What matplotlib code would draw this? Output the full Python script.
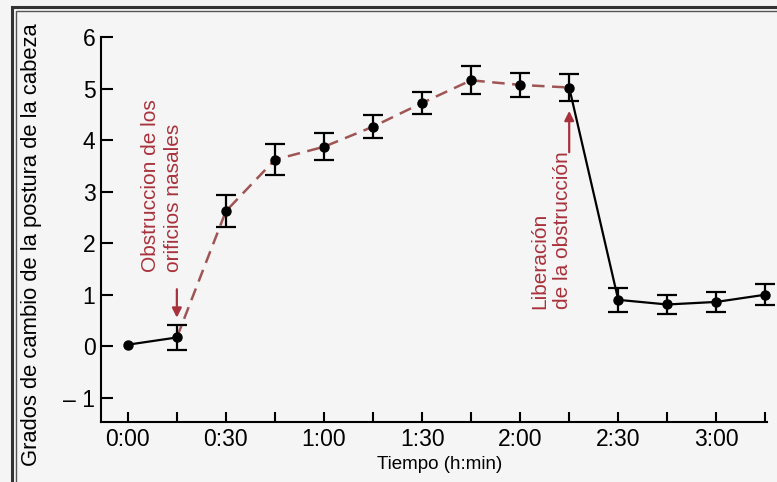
import numpy as np
import matplotlib.pyplot as plt
from matplotlib.patches import Rectangle

# minutes after start, mean change in head posture (degrees), error bar
minutes = [0, 15, 30, 45, 60, 75, 90, 105, 120, 135, 150, 165, 180, 195]
grados = [0.03, 0.17, 2.62, 3.62, 3.87, 4.26, 4.72, 5.16, 5.07, 5.02, 0.90, 0.81, 0.86, 1.00]
error = [0.0, 0.25, 0.31, 0.30, 0.26, 0.22, 0.21, 0.27, 0.24, 0.26, 0.23, 0.19, 0.20, 0.20]

x_ticks = [0, 15, 30, 45, 60, 75, 90, 105, 120, 135, 150, 165, 180, 195]
x_labels = ["0:00", "", "0:30", "", "1:00", "", "1:30", "", "2:00", "", "2:30", "", "3:00", ""]
y_ticks = [-1, 0, 1, 2, 3, 4, 5, 6]
y_labels = ["\u2013 1", "0", "1", "2", "3", "4", "5", "6"]

i_obstr = 1    # nostrils blocked
i_liber = 9    # obstruction released

plt.rcParams["font.family"] = ["Liberation Sans", "DejaVu Sans"]
red = "#a8323c"
dash_col = "#a05555"

fig = plt.figure(figsize=(7.77, 4.82), dpi=100)
fig.patch.set_facecolor("#f5f5f5")
ax = fig.add_axes([101 / 777, 1 - 422 / 482, (767 - 101) / 777, (422 - 37) / 482])
ax.set_facecolor("none")

x = np.array(minutes)
y = np.array(grados)
e = np.array(error)

# line segments
ax.plot(x[:i_obstr + 1], y[:i_obstr + 1], color="black", lw=1.6, zorder=2)
ax.plot(x[i_obstr:i_liber + 1], y[i_obstr:i_liber + 1], color=dash_col, lw=1.8,
        dashes=(5, 3), zorder=2)
ax.plot(x[i_liber:], y[i_liber:], color="black", lw=1.6, zorder=2)

# error bars (first point has none)
ax.errorbar(x[1:], y[1:], yerr=e[1:], fmt="none", ecolor="black", elinewidth=1.6,
            capsize=7.5, capthick=1.6, zorder=3, clip_on=False)
ax.plot(x, y, "o", color="black", ms=6.5, zorder=4, clip_on=False)

ax.set_xlim(-8.2, 195.5)
ax.set_ylim(-1.47, 6)
ax.set_xticks(x_ticks)
ax.set_xticklabels(x_labels)
ax.set_yticks(y_ticks)
ax.set_yticklabels(y_labels)

for s in ["top", "right"]:
    ax.spines[s].set_visible(False)
for s in ["left", "bottom"]:
    ax.spines[s].set_linewidth(1.5)
ax.tick_params(axis="y", direction="in", length=8.5, width=1.5, labelsize=16.5, pad=4)
ax.tick_params(axis="x", direction="in", length=7, width=1.5, labelsize=16.5, pad=4)

ax.set_ylabel("Grados de cambio de la postura de la cabeza", fontsize=15.8)
ax.yaxis.set_label_coords(-0.089, 0.46)
ax.set_xlabel("Tiempo (h:min)", fontsize=13.5)
ax.xaxis.set_label_coords(0.509, -0.088)

# annotations
ax.text(10.4, 1.45, "Obstruccion de los\norificios nasales", rotation=90, color=red,
        fontsize=15, ha="center", va="bottom", multialignment="left", linespacing=1.3)
ax.annotate("", xy=(15, 0.5), xytext=(15, 1.16),
            arrowprops=dict(arrowstyle="-|>", color=red, lw=1.6, mutation_scale=14))

ax.text(129.5, 0.72, "Liberación\nde la obstrucción", rotation=90, color=red,
        fontsize=15, ha="center", va="bottom", multialignment="left", linespacing=1.3)
ax.annotate("", xy=(135, 4.62), xytext=(135, 3.71),
            arrowprops=dict(arrowstyle="-|>", color=red, lw=1.6, mutation_scale=14))

# page frame
fig.add_artist(Rectangle((12 / 777, -0.1), 1.2, 1 - 7 / 482 + 0.1, transform=fig.transFigure,
                         fill=False, ec="#333333", lw=2.2))
fig.add_artist(Rectangle((16 / 777, -0.1), 1.2, 1 - 11 / 482 + 0.1, transform=fig.transFigure,
                         fill=False, ec="#555555", lw=1.0))

fig.savefig("out.png", dpi=100, facecolor=fig.get_facecolor())
plt.close(fig)
